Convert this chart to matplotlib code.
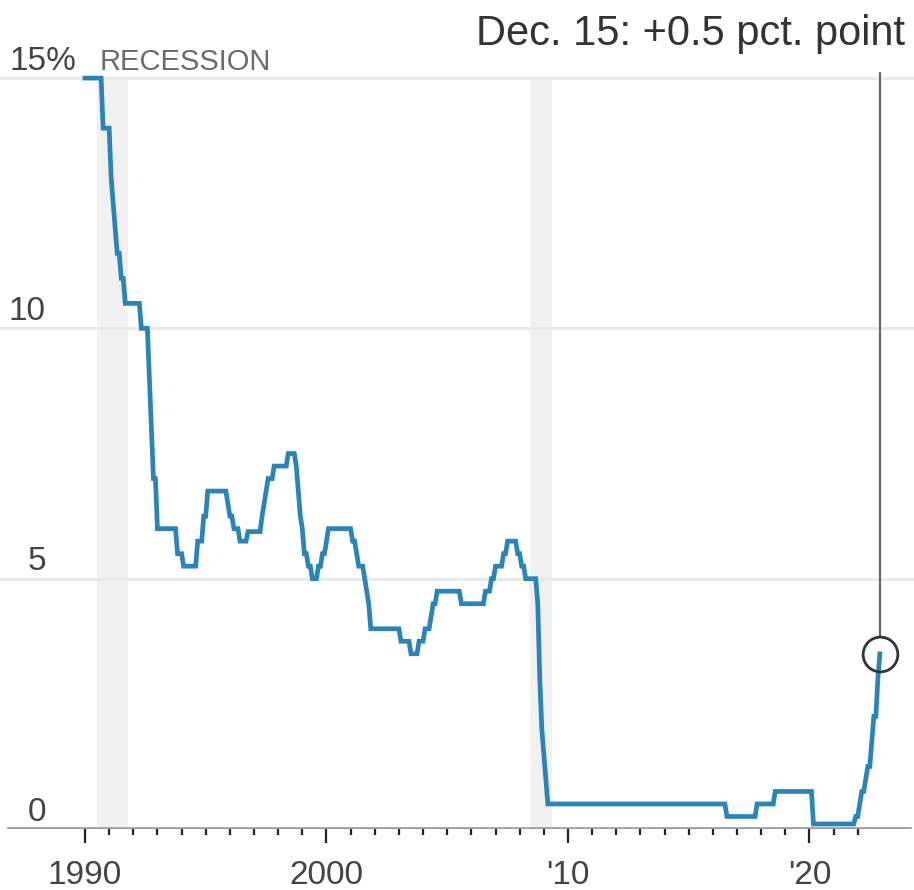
import matplotlib
matplotlib.use("Agg")
import matplotlib.pyplot as plt
import pandas as pd

# Bank rate changes (date of change, new rate in %)
change_dates = [
    "1990-01-01", "1990-10-08", "1991-02-13", "1991-02-27", "1991-03-22",
    "1991-04-12", "1991-05-24", "1991-07-12", "1991-09-04", "1992-05-05",
    "1992-09-22", "1992-10-16", "1992-11-13", "1993-01-26", "1993-11-23",
    "1994-02-08", "1994-09-12", "1994-12-07", "1995-02-02", "1995-12-13",
    "1996-01-18", "1996-03-08", "1996-06-06", "1996-10-30", "1997-05-06",
    "1997-06-06", "1997-07-10", "1997-08-07", "1997-11-06", "1998-06-04",
    "1998-10-08", "1998-11-05", "1998-12-10", "1999-01-07", "1999-02-04",
    "1999-04-08", "1999-06-10", "1999-09-08", "1999-11-04", "2000-01-13",
    "2000-02-10", "2001-02-08", "2001-04-05", "2001-05-10", "2001-08-02",
    "2001-09-18", "2001-10-04", "2001-11-08", "2003-02-06", "2003-07-10",
    "2003-11-06", "2004-02-05", "2004-05-06", "2004-06-10", "2004-08-05",
    "2005-08-04", "2006-08-03", "2006-11-09", "2007-01-11", "2007-05-10",
    "2007-07-05", "2007-12-06", "2008-02-07", "2008-04-10", "2008-10-08",
    "2008-11-06", "2008-12-04", "2009-01-08", "2009-02-05", "2009-03-05",
    "2016-08-04", "2017-11-02", "2018-08-02", "2020-03-11", "2020-03-19",
    "2021-12-16", "2022-02-03", "2022-03-17", "2022-05-05", "2022-06-16",
    "2022-08-04", "2022-09-22", "2022-11-03", "2022-12-15",
]
bank_rate = [
    15.0, 14.0, 13.5, 13.0, 12.5,
    12.0, 11.5, 11.0, 10.5, 10.0,
    9.0, 8.0, 7.0, 6.0, 5.5,
    5.25, 5.75, 6.25, 6.75, 6.5,
    6.25, 6.0, 5.75, 5.94, 6.25,
    6.5, 6.75, 7.0, 7.25, 7.5,
    7.25, 6.75, 6.25, 6.0, 5.5,
    5.25, 5.0, 5.25, 5.5, 5.75,
    6.0, 5.75, 5.5, 5.25, 5.0,
    4.75, 4.5, 4.0, 3.75, 3.5,
    3.75, 4.0, 4.25, 4.5, 4.75,
    4.5, 4.75, 5.0, 5.25, 5.5,
    5.75, 5.5, 5.25, 5.0, 4.5,
    3.0, 2.0, 1.5, 1.0, 0.5,
    0.25, 0.5, 0.75, 0.25, 0.1,
    0.25, 0.5, 0.75, 1.0, 1.25,
    1.75, 2.25, 3.0, 3.5,
]

recessions = [(1990.5, 1991.78), (2008.42, 2009.33)]
x_ticks = [1990, 2000, 2010, 2020]
x_tick_labels = ["1990", "2000", "'10", "'20"]
y_ticks = [0, 5, 10, 15]
y_tick_labels = ["0", "5", "10", "15%"]
note = "Dec. 15: +0.5 pct. point"

font = ["Liberation Sans", "DejaVu Sans"]
plt.rcParams["font.family"] = font

rate = pd.Series(bank_rate, index=pd.to_datetime(change_dates))
monthly = rate.resample("ME").last().ffill()
x = monthly.index.year + (monthly.index.month - 1) / 12
y = monthly.values

fig = plt.figure(figsize=(9.14, 8.9), dpi=100)
ax = fig.add_axes([0, 61 / 890, 1, 829 / 890])
ax.set_xlim(1986.48, 2024.33)
ax.set_ylim(0, 16.56)

for name in ["top", "right", "left", "bottom"]:
    ax.spines[name].set_visible(False)

for start, end in recessions:
    ax.fill_between([start, end], 0, 15, color="#f1f1f1", lw=0, zorder=0)

for val in y_ticks[1:]:
    ax.axhline(val, color="#e9e9e9", lw=2.2, zorder=1)
ax.axhline(0, xmin=0.01, xmax=0.996, color="#9a9a9a", lw=2.6, zorder=2)

ax.plot(x, y, color="#2a84b8", lw=3.4, solid_joinstyle="miter", zorder=3)

# y labels sit above their gridlines
for val, lab in zip(y_ticks, y_tick_labels):
    if lab.endswith("%"):
        ax.annotate(lab, xy=(0, val), xycoords=("axes fraction", "data"),
                    xytext=(7, 6), textcoords="offset points",
                    ha="left", va="baseline", fontsize=24,
                    color="#444444")
    else:
        ax.annotate(lab, xy=(0, val), xycoords=("axes fraction", "data"),
                    xytext=(33, 6), textcoords="offset points",
                    ha="right", va="baseline", fontsize=24,
                    color="#444444")

ax.annotate("RECESSION", xy=(recessions[0][0], 15), xycoords="data",
            xytext=(2, 6), textcoords="offset points",
            ha="left", va="baseline", fontsize=21, color="#6b6b6b")

ax.set_yticks([])
ax.set_xticks(x_ticks, x_tick_labels)
ax.set_xticks([yr for yr in range(1991, 2023) if yr % 10], minor=True)
ax.tick_params(axis="x", which="major", length=10, width=1.6,
               color="#222222", pad=12, labelsize=24, labelcolor="#444444")
ax.tick_params(axis="x", which="minor", length=4, width=1.6,
               color="#222222")

# last point marker with callout
last_x, last_y = x[-1], y[-1]
ax.plot([last_x, last_x], [last_y + 0.36, 15.12], color="#666666",
        lw=1.6, zorder=4, solid_capstyle="butt")
ax.plot([last_x], [last_y], marker="o", ms=25, mfc="none", mec="#333333",
        mew=2.0, zorder=5, clip_on=False)
ax.text(2023.95, 15.66, note, ha="right", va="baseline", fontsize=30,
        color="#333333")

fig.savefig("out.png", dpi=100)
